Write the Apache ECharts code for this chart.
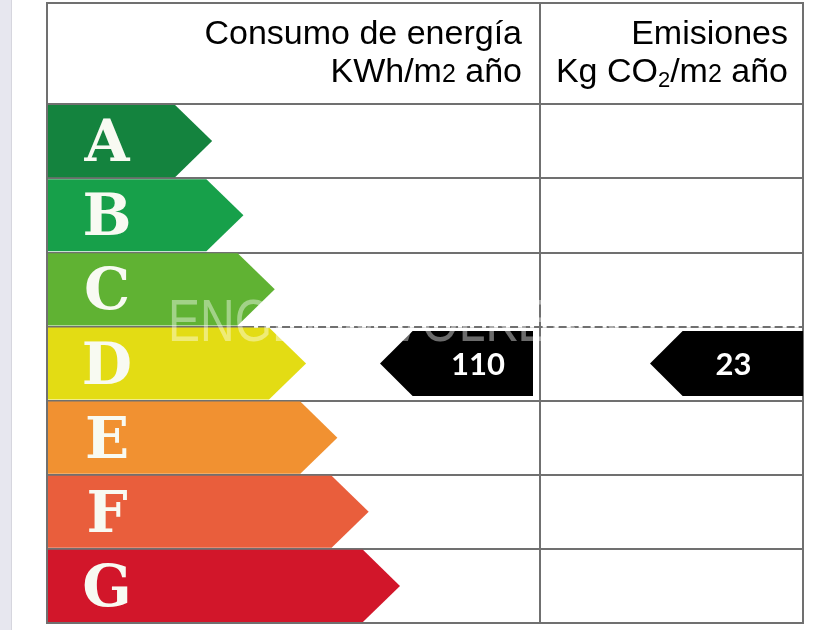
<!DOCTYPE html>
<html>
<head>
<meta charset="utf-8">
<script src="https://cdn.jsdelivr.net/npm/echarts@6/dist/echarts.min.js"></script>
<style>
  html, body { margin: 0; padding: 0; background: #ffffff; }
  #chart { width: 840px; height: 630px; }
</style>
</head>
<body>
<div id="chart"></div>
<script>
// Energy rating scale, best (A) to worst (G)
const ratings = ['A', 'B', 'C', 'D', 'E', 'F', 'G'];

// Certified values for the dwelling
const energyValue = 110;      // KWh/m2 año
const energyClass = 'D';
const emissionValue = 23;     // Kg CO2/m2 año
const emissionClass = 'D';

// Column headings
const energyTitle = ['Consumo de energía', 'KWh/m', '2', ' año'];
const emissionTitle = ['Emisiones', 'Kg CO', '2', '/m', '2', ' año'];
const watermarkText = 'ENGEL & VÖLKERS';

const bandColors = ['#14833e', '#17a04a', '#60b233', '#e3dc14', '#f19131', '#e95e3c', '#d2162a'];
const lineColor = '#707070';

const chart = echarts.init(document.getElementById('chart'), null, { renderer: 'canvas' });

// Coloured class arrows in the energy column
function renderBand(params, api) {
  const i = params.dataIndex;
  const c = api.coord([0, i]);
  const h = api.size([0, 1])[1];
  const W = api.size([1, 0])[0];
  const x0 = c[0] + 1;
  const half = h / 2 - 1;
  const tip = c[0] + W * (0.335 + 0.0635 * i);
  const neck = tip - h / 2;
  return {
    type: 'group',
    children: [
      {
        type: 'polygon',
        shape: { points: [[x0, c[1] - half], [neck, c[1] - half], [tip, c[1]], [neck, c[1] + half], [x0, c[1] + half]] },
        style: { fill: bandColors[i] }
      },
      {
        type: 'text',
        x: c[0] + 60,
        y: c[1] + 5,
        style: {
          text: ratings[i],
          fill: '#f8faf2',
          font: 'bold 58px "DejaVu Serif"',
          textAlign: 'center',
          textVerticalAlign: 'middle'
        }
      }
    ]
  };
}

// Black pointer showing the certified value in its class row,
// with the broken (dashed) rule along the top of that row
function markerRenderer(rightGap, textFrac, dashFrom) {
  return function (params, api) {
    const val = api.value(0);
    const idx = api.value(1);
    const c = api.coord([1, idx]);
    const c0 = api.coord([0, idx]);
    const h = api.size([0, 1])[1];
    const W = api.size([1, 0])[0];
    const hh = h * 0.44;
    const right = c[0] - rightGap;
    const len = 153;
    const left = right - len;
    const neck = left + hh;
    const rowTop = c[1] - h / 2;
    return {
      type: 'group',
      children: [
        {
          type: 'line',
          shape: { x1: c0[0] + W * dashFrom, y1: rowTop, x2: c[0] - 1, y2: rowTop },
          style: { stroke: '#ffffff', lineWidth: 2.5, lineDash: [4, 8] }
        },
        {
          type: 'polygon',
          shape: { points: [[left, c[1]], [neck, c[1] - hh], [right, c[1] - hh], [right, c[1] + hh], [neck, c[1] + hh]] },
          style: { fill: '#000000' }
        },
        {
          type: 'text',
          x: left + len * textFrac,
          y: c[1] + 1,
          style: {
            text: String(val),
            fill: '#ffffff',
            font: 'bold 31px Lato',
            textAlign: 'center',
            textVerticalAlign: 'middle'
          }
        }
      ]
    };
  };
}

const yAxisBase = {
  type: 'category',
  data: ratings,
  inverse: true,
  axisLine: { show: false },
  axisTick: { show: false },
  axisLabel: { show: false },
  splitLine: { show: true, interval: 0, lineStyle: { color: lineColor, width: 2 } }
};
const xAxisBase = {
  type: 'value',
  min: 0,
  max: 1,
  show: false,
  splitLine: { show: false }
};

const headFont = '"Liberation Sans", Arial, sans-serif';
const headRich = {
  a: { fontSize: 34, fontFamily: headFont, color: '#2e2e2e', lineHeight: 38 },
  sup: { fontSize: 25, fontFamily: headFont, color: '#2e2e2e', padding: [6, 0, 0, 0] },
  sub: { fontSize: 22, fontFamily: headFont, color: '#2e2e2e', lineHeight: 22, verticalAlign: 'bottom' }
};

const option = {
  backgroundColor: '#ffffff',
  animation: false,
  grid: [
    { left: 47, top: 104, width: 493, height: 519, show: true, borderColor: lineColor, borderWidth: 2, backgroundColor: '#ffffff' },
    { left: 540, top: 104, width: 263, height: 519, show: true, borderColor: lineColor, borderWidth: 2, backgroundColor: '#ffffff' }
  ],
  xAxis: [
    Object.assign({ gridIndex: 0 }, xAxisBase),
    Object.assign({ gridIndex: 1 }, xAxisBase)
  ],
  yAxis: [
    Object.assign({ gridIndex: 0 }, yAxisBase),
    Object.assign({ gridIndex: 1 }, yAxisBase)
  ],
  series: [
    {
      type: 'custom',
      name: 'Clases',
      xAxisIndex: 0,
      yAxisIndex: 0,
      renderItem: renderBand,
      data: ratings.map(function (r, i) { return [0, i]; }),
      z: 2
    },
    {
      type: 'custom',
      name: 'Consumo de energía',
      xAxisIndex: 0,
      yAxisIndex: 0,
      renderItem: markerRenderer(7, 0.64, 0.42),
      data: [[energyValue, ratings.indexOf(energyClass)]],
      z: 3
    },
    {
      type: 'custom',
      name: 'Emisiones',
      xAxisIndex: 1,
      yAxisIndex: 1,
      renderItem: markerRenderer(0, 0.545, 0.01),
      data: [[emissionValue, ratings.indexOf(emissionClass)]],
      z: 3
    }
  ],
  graphic: [
    // side strip
    { type: 'rect', left: 0, top: 0, shape: { width: 11, height: 630 }, style: { fill: '#e7e7ef' }, z: 0 },
    { type: 'rect', left: 11, top: 0, shape: { width: 1, height: 630 }, style: { fill: '#d6d6de' }, z: 0 },
    // heading cells
    { type: 'rect', x: 47, y: 3, shape: { width: 493, height: 101 }, style: { fill: '#ffffff', stroke: lineColor, lineWidth: 2 }, z: 1 },
    { type: 'rect', x: 540, y: 3, shape: { width: 263, height: 101 }, style: { fill: '#ffffff', stroke: lineColor, lineWidth: 2 }, z: 1 },
    {
      type: 'text', x: 522, y: 15.5, z: 5,
      style: {
        text: '{a|' + energyTitle[0] + '}\n{a|' + energyTitle[1] + '}{sup|' + energyTitle[2] + '}{a|' + energyTitle[3] + '}',
        textAlign: 'right', textVerticalAlign: 'top',
        rich: headRich
      }
    },
    {
      type: 'text', x: 788, y: 15.5, z: 5,
      style: {
        text: '{a|' + emissionTitle[0] + '}\n{a|' + emissionTitle[1] + '}{sub|' + emissionTitle[2] + '}{a|' + emissionTitle[3] + '}{sup|' + emissionTitle[4] + '}{a|' + emissionTitle[5] + '}',
        textAlign: 'right', textVerticalAlign: 'top',
        rich: headRich
      }
    },
    // faint watermark across the D row
    {
      type: 'text', x: 168, y: 324, z: 100, scaleX: 0.8, originX: 0, originY: 0,
      style: {
        text: watermarkText,
        fill: '#ffffff',
        opacity: 0.42,
        stroke: null,
        lineWidth: 0,
        font: '60px "Liberation Sans", Arial, sans-serif',
        textAlign: 'left',
        textVerticalAlign: 'middle'
      }
    }
  ]
};

chart.setOption(option);
</script>
</body>
</html>
